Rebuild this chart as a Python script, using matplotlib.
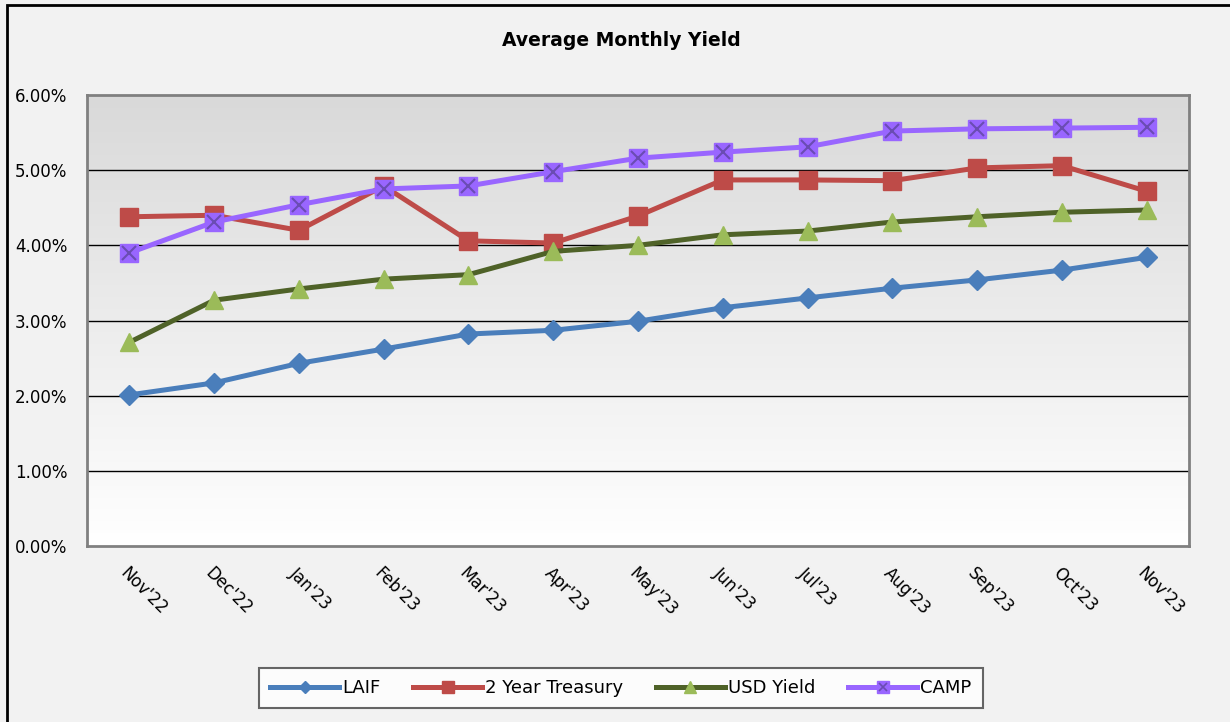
import matplotlib.pyplot as plt
import numpy as np
from matplotlib.legend_handler import HandlerTuple
from matplotlib.patches import Rectangle

months = ["Nov'22", "Dec'22", "Jan'23", "Feb'23", "Mar'23", "Apr'23", "May'23",
          "Jun'23", "Jul'23", "Aug'23", "Sep'23", "Oct'23", "Nov'23"]
laif = [2.01, 2.17, 2.43, 2.62, 2.82, 2.87, 2.99, 3.17, 3.30, 3.43, 3.54, 3.67, 3.84]
treasury = [4.38, 4.40, 4.20, 4.79, 4.06, 4.03, 4.39, 4.87, 4.87, 4.86, 5.03, 5.06, 4.72]
usd_yield = [2.71, 3.27, 3.42, 3.55, 3.61, 3.92, 4.00, 4.14, 4.19, 4.31, 4.38, 4.44, 4.47]
camp = [3.90, 4.31, 4.54, 4.75, 4.79, 4.98, 5.16, 5.24, 5.31, 5.52, 5.55, 5.56, 5.57]
y_ticks = [0, 1, 2, 3, 4, 5, 6]

fig = plt.figure(figsize=(12.3, 7.22), dpi=100, facecolor="#f2f2f2")
# outer chart border
fig.patches.append(Rectangle((7 / 1230, -0.01), 1.02, 1 - 5 / 722 + 0.01, transform=fig.transFigure,
                             fill=False, edgecolor="black", linewidth=2))

ax = fig.add_axes([87 / 1230, 1 - 546 / 722, (1189 - 87) / 1230, (546 - 95) / 722])
ax.set_facecolor("white")

# gradient background in plot area
grad = np.linspace(1, 0, 256).reshape(-1, 1)
ax.imshow(grad, extent=[0, 1, 0, 1], transform=ax.transAxes, aspect="auto",
          cmap=plt.matplotlib.colors.LinearSegmentedColormap.from_list("g", ["#ffffff", "#d9d9d9"]),
          vmin=0, vmax=1, zorder=0)

x = np.arange(len(months))
ax.plot(x, laif, color="#4a7ebb", lw=3.6, marker="D", ms=10, mec="#4a7ebb", zorder=3)
ax.plot(x, treasury, color="#be4b48", lw=3.6, marker="s", ms=13, mec="#be4b48", zorder=3)
ax.plot(x, usd_yield, color="#4f6228", lw=3.6, marker="^", ms=13, mfc="#9bbb59", mec="#9bbb59", zorder=3)
ax.plot(x, camp, color="#9966ff", lw=3.6, marker="s", ms=13, mec="#9966ff", zorder=4)
ax.plot(x, camp, ls="none", marker="x", ms=10, mew=1.5, color="#6a4cb3", zorder=5)

ax.set_xlim(-0.5, len(months) - 0.5)
ax.set_ylim(0, 6)
ax.set_yticks(y_ticks)
ax.set_yticklabels([f"{v:.2f}%" for v in y_ticks], fontsize=12)
ax.set_xticks(x)
ax.set_xticklabels(months, rotation=-45, ha="left", va="top", rotation_mode="anchor", fontsize=12)
ax.tick_params(length=0, pad=14)
ax.tick_params(axis="x", pad=13)
for v in y_ticks[1:-1]:
    ax.axhline(v, color="black", lw=1, zorder=1)
for s in ax.spines.values():
    s.set_color("#808080")
    s.set_linewidth(2)

fig.text(621 / 1230, 1 - 40 / 722, "Average Monthly Yield", ha="center", va="center",
         fontsize=13.5, fontweight="bold")

h1 = plt.Line2D([], [], color="#4a7ebb", lw=3.6, marker="D", ms=6)
h2 = plt.Line2D([], [], color="#be4b48", lw=3.6, marker="s", ms=8)
h3 = plt.Line2D([], [], color="#4f6228", lw=3.6, marker="^", ms=8, mfc="#9bbb59", mec="#9bbb59")
h4a = plt.Line2D([], [], color="#9966ff", lw=3.6, marker="s", ms=8)
h4b = plt.Line2D([], [], ls="none", marker="x", ms=6, mew=1.2, color="#6a4cb3")
leg = fig.legend([h1, h2, h3, (h4a, h4b)], ["LAIF", "2 Year Treasury", "USD Yield", "CAMP"],
                 handler_map={tuple: HandlerTuple(ndivide=1, pad=0)},
                 loc="center", bbox_to_anchor=(621 / 1230, 1 - 688 / 722), ncol=4,
                 fontsize=13, frameon=True, fancybox=False, edgecolor="#404040",
                 handlelength=3.8, handletextpad=0.2, columnspacing=1.8, borderpad=0.6)
leg.get_frame().set_linewidth(1.5)

fig.savefig("out.png", dpi=100, facecolor=fig.get_facecolor())
